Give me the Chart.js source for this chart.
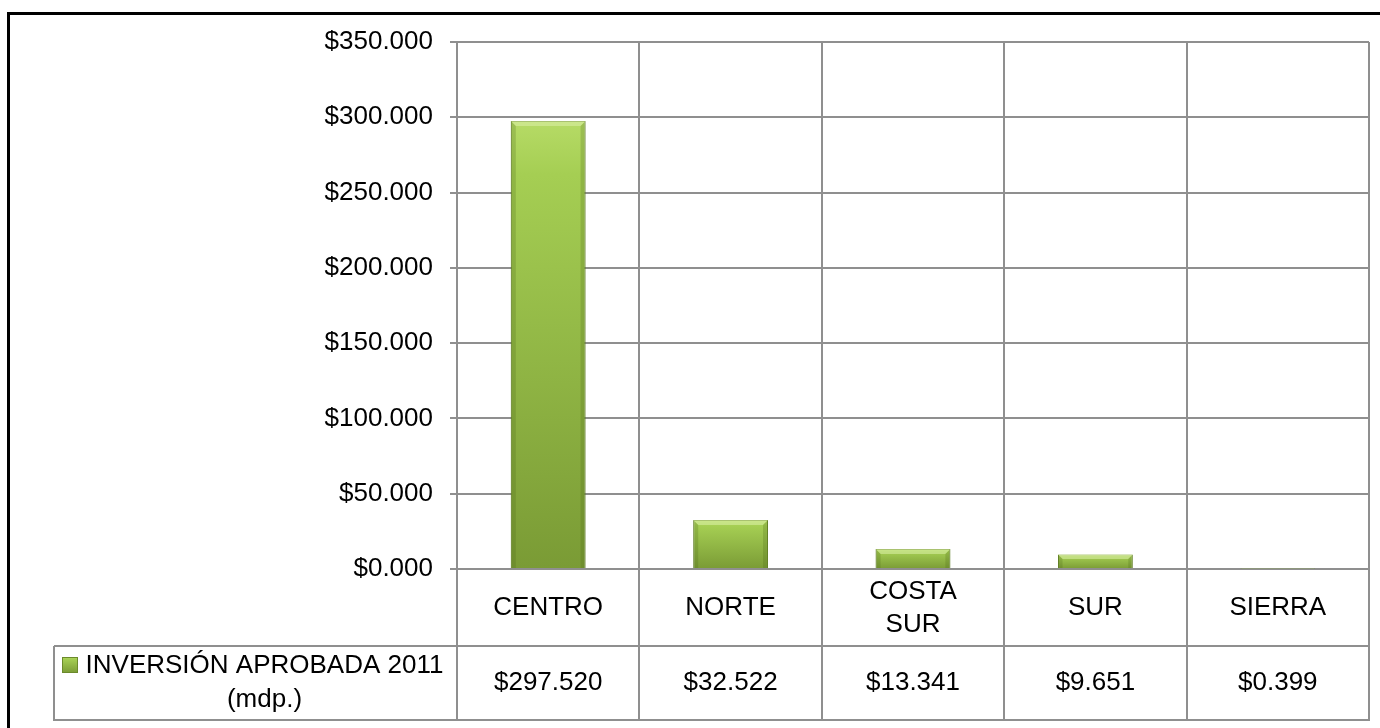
<!DOCTYPE html>
<html>
<head>
<meta charset="utf-8">
<script src="https://cdn.jsdelivr.net/npm/chart.js@4/dist/chart.umd.min.js"></script>
<style>
  html, body { margin: 0; padding: 0; background: #fff; }
  #wrap { width: 1380px; height: 728px; }
</style>
</head>
<body>
<div id="wrap"><canvas id="chart" width="1380" height="728"></canvas></div>
<script>
// datos (mdp.)
const categories = [["CENTRO"], ["NORTE"], ["COSTA", "SUR"], ["SUR"], ["SIERRA"]];
const seriesName = ["INVERSIÓN APROBADA 2011", "(mdp.)"];
const inversion = [297.520, 32.522, 13.341, 9.651, 0.399];
const yTicks = [0, 50, 100, 150, 200, 250, 300, 350];

const GRID = "#8f8f8f";
const FONT = '"Liberation Sans", Arial, sans-serif';
const money = v => "$" + Number(v).toFixed(3);

Chart.defaults.font.family = FONT;
Chart.defaults.font.size = 26;
Chart.defaults.color = "#000";

function barGradient(ctx, top, bottom) {
  const g = ctx.createLinearGradient(0, top, 0, bottom);
  g.addColorStop(0, "#b6db66");
  g.addColorStop(0.12, "#a5ce53");
  g.addColorStop(1, "#7a9b35");
  return g;
}

// bisel tipo Excel sobre cada barra (usa los elementos ya calculados)
const bevel = {
  id: "bevel",
  afterDatasetsDraw(chart) {
    const { ctx } = chart;
    ctx.save();
    chart.getDatasetMeta(0).data.forEach(bar => {
      const { x, y, width, base } = bar.getProps(["x", "y", "width", "base"], true);
      const h = base - y;
      if (h < 2) return;
      const l = x - width / 2, r = x + width / 2;
      const e = Math.min(5, h / 3);
      // borde superior claro
      ctx.fillStyle = "rgba(220,240,170,0.55)";
      ctx.beginPath();
      ctx.moveTo(l, y); ctx.lineTo(r, y); ctx.lineTo(r - e, y + e); ctx.lineTo(l + e, y + e);
      ctx.closePath(); ctx.fill();
      // laterales oscuros
      ctx.fillStyle = "rgba(70,95,20,0.22)";
      ctx.beginPath();
      ctx.moveTo(l, y); ctx.lineTo(l + e, y + e); ctx.lineTo(l + e, base); ctx.lineTo(l, base);
      ctx.closePath(); ctx.fill();
      ctx.beginPath();
      ctx.moveTo(r, y); ctx.lineTo(r - e, y + e); ctx.lineTo(r - e, base); ctx.lineTo(r, base);
      ctx.closePath(); ctx.fill();
    });
    ctx.restore();
  }
};

// tabla de datos debajo del eje + marco exterior
const dataTable = {
  id: "dataTable",
  afterDraw(chart) {
    const { ctx, chartArea: a, scales: { x } } = chart;
    const step = x.getPixelForValue(1) - x.getPixelForValue(0);
    const top = a.bottom, mid = top + 77, bot = mid + 74;
    const tableLeft = 54;
    ctx.save();
    ctx.strokeStyle = GRID;
    ctx.lineWidth = 2;
    const line = (x1, y1, x2, y2) => { ctx.beginPath(); ctx.moveTo(x1, y1); ctx.lineTo(x2, y2); ctx.stroke(); };
    for (let i = 0; i <= categories.length; i++) {
      const px = Math.round(x.getPixelForValue(i) - step / 2);
      line(px, top, px, bot);
    }
    line(tableLeft, mid, a.right, mid);
    line(tableLeft - 1, bot, a.right + 1, bot);
    line(tableLeft, mid, tableLeft, bot);

    ctx.font = "26px " + FONT;
    ctx.fillStyle = "#000";
    ctx.textAlign = "center";
    ctx.textBaseline = "middle";
    categories.forEach((lines, i) => {
      const cx = x.getPixelForValue(i);
      lines.forEach((t, j) => {
        ctx.fillText(t, cx, top + 39 + (j - (lines.length - 1) / 2) * 33);
      });
      ctx.fillText(money(inversion[i]), cx, mid + 37);
    });

    // leyenda
    const iconX = 62, iconY = 657, iconS = 16;
    ctx.fillStyle = barGradient(ctx, iconY, iconY + iconS);
    ctx.fillRect(iconX, iconY, iconS, iconS);
    ctx.strokeStyle = "#6b8a2b";
    ctx.lineWidth = 1;
    ctx.strokeRect(iconX + 0.5, iconY + 0.5, iconS - 1, iconS - 1);
    ctx.fillStyle = "#000";
    const textX = (tableLeft + a.left) / 2 + 9;
    ctx.fillText(seriesName[0], textX, mid + 20);
    ctx.fillText(seriesName[1], textX, mid + 54);

    // marco negro
    ctx.strokeStyle = "#000";
    ctx.lineWidth = 3;
    ctx.strokeRect(8.5, 13.5, 1400, 800);
    ctx.restore();
  }
};

new Chart(document.getElementById("chart"), {
  type: "bar",
  data: {
    labels: categories.map(c => c.join(" ")),
    datasets: [{
      label: seriesName.join(" "),
      data: inversion,
      backgroundColor(c) {
        const chart = c.chart;
        if (!chart.chartArea || c.raw == null) return "#9bc34a";
        const y = chart.scales.y;
        return barGradient(chart.ctx, y.getPixelForValue(c.raw), y.getPixelForValue(0));
      },
      borderColor: "#6b8a2b",
      borderWidth: 1,
      barPercentage: 0.41,
      categoryPercentage: 1
    }]
  },
  options: {
    responsive: false,
    animation: false,
    devicePixelRatio: 1,
    layout: { padding: { left: 0, top: 42, right: 11, bottom: 159 } },
    plugins: { legend: { display: false }, tooltip: { enabled: false } },
    scales: {
      x: {
        offset: true,
        ticks: { display: false },
        grid: { color: GRID, lineWidth: 2, offset: true, drawTicks: false },
        border: { color: GRID, width: 2 }
      },
      y: {
        min: 0,
        max: 350,
        afterBuildTicks: s => { s.ticks = yTicks.map(v => ({ value: v })); },
        afterFit: s => { s.width = 457; },
        ticks: { padding: 17, callback: v => money(v), font: { size: 26 } },
        grid: { color: GRID, lineWidth: 2, tickLength: 7 },
        border: { color: GRID, width: 2 }
      }
    }
  },
  plugins: [bevel, dataTable]
});
</script>
</body>
</html>
